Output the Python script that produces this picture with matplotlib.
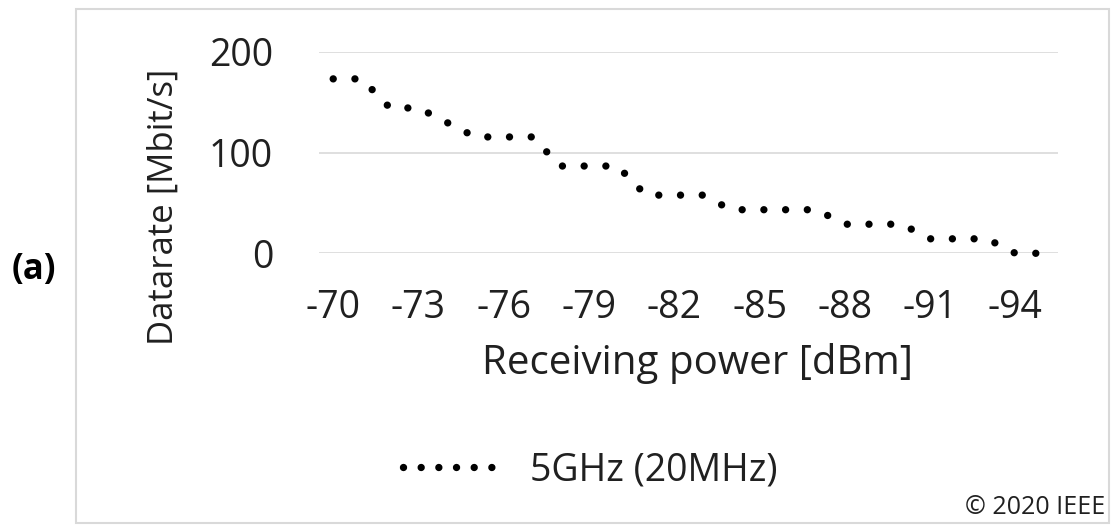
import numpy as np
import matplotlib
matplotlib.use("Agg")
import matplotlib.pyplot as plt
from matplotlib.lines import Line2D
from matplotlib.patches import Rectangle

plt.rcParams['font.family'] = ['Open Sans', 'DejaVu Sans']

# receiving power categories (dBm) and measured datarate (Mbit/s)
power = list(range(-70, -96, -1))
datarate = [173.3, 173.3, 144.4, 144.4, 130.0, 115.6, 115.6, 115.6,
            86.7, 86.7, 86.7, 57.8, 57.8, 57.8, 43.3, 43.3, 43.3, 43.3,
            28.9, 28.9, 28.9, 14.4, 14.4, 14.4, 0.0, 0.0]
yticks = [0, 100, 200]
series_name = "5GHz (20MHz)"

W, H = 1112, 527
fig = plt.figure(figsize=(W / 100, H / 100), dpi=100)
ax = fig.add_axes([319 / W, 1 - 253.3 / H, (1058 - 319) / W, (253.3 - 52) / H])

x = np.arange(len(power))
ax.plot(x, datarate, color='black', lw=5.3, linestyle=(0, (0.001, 2.95)),
        dash_capstyle='round', clip_on=False, zorder=3)

ax.set_xlim(-0.5, len(power) - 0.5)
ax.set_ylim(0, 200)
ax.set_yticks(yticks)
ax.set_xticks(x[::3])
ax.set_xticklabels([str(p) for p in power[::3]])
ax.grid(axis='y', color='#d9d9d9', lw=1.2)
ax.set_axisbelow(True)
for s in ax.spines.values():
    s.set_visible(False)
ax.tick_params(axis='both', length=0, labelsize=27, colors='#000000')
ax.tick_params(axis='x', pad=26)
ax.tick_params(axis='y', pad=33)
for lab in ax.get_xticklabels() + ax.get_yticklabels():
    lab.set_color('#202020')

fig.text(164 / W, 1 - 207 / H, "Datarate [Mbit/s]", rotation=90,
         ha='center', va='center', fontsize=25, color='#202020')
fig.text(697 / W, 1 - 363 / H, "Receiving power [dBm]",
         ha='center', va='center', fontsize=29, color='#202020')
fig.text(33.5 / W, 1 - 270 / H, "(a)", ha='center', va='center',
         fontsize=25, fontweight='bold', color='black')
fig.text(1105 / W, 1 - 507 / H, "\u00a9 2020 IEEE", ha='right', va='center',
         fontsize=18, color='#202020')

handle = Line2D([], [], color='black', lw=5.3, linestyle=(0, (0.001, 2.4)),
                dash_capstyle='round')
fig.legend([handle], [series_name], loc='center left',
           bbox_to_anchor=(403 / W, 1 - 470 / H), frameon=False,
           fontsize=27, handlelength=2.6, handletextpad=0.8,
           borderpad=0, borderaxespad=0, labelcolor='#202020')

fig.add_artist(Rectangle((76 / W, 1 - 522.7 / H), (1109 - 76) / W, (522.7 - 9) / H,
                         transform=fig.transFigure, fill=False,
                         edgecolor='#d9d9d9', lw=1.5))

fig.savefig("out.png", dpi=100, facecolor='white')
